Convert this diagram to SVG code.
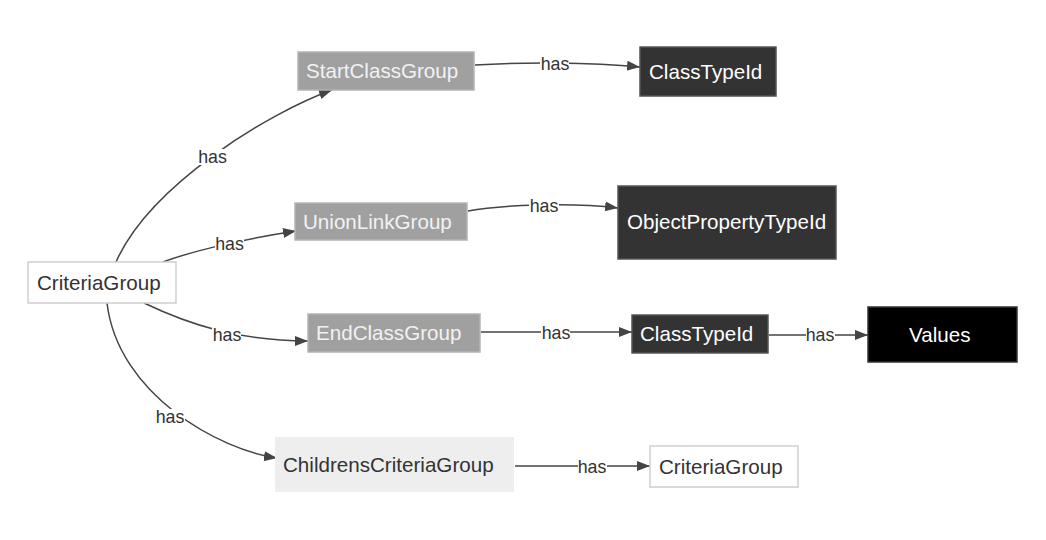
<svg xmlns="http://www.w3.org/2000/svg" width="1046" height="540" viewBox="0 0 1046 540">
<defs>
<marker id="arr" markerUnits="userSpaceOnUse" markerWidth="14" markerHeight="11" refX="13" refY="5" orient="auto">
<path d="M0,0 L13,5 L0,10 z" fill="#444"/>
</marker>
</defs>
<style>
text{font-family:"Liberation Sans",Arial,sans-serif}
.nt{font-size:20.6px}
.lb{font-size:17.8px;fill:#333;text-anchor:middle}
.lbg{fill:#fff}
.e{fill:none;stroke:#444;stroke-width:1.5;marker-end:url(#arr)}
.white{fill:#fff;stroke:#cfcfcf;stroke-width:1.5}
.grey{fill:#a0a0a0;stroke:#b4b4b4;stroke-width:1.5}
.dark{fill:#333;stroke:#555;stroke-width:1.5}
.black{fill:#000;stroke:#333;stroke-width:1.5}
.light{fill:#eee}
.tdark{fill:#333}
.tlight{fill:#f2f2f2}
.twhite{fill:#fff}
</style>
<rect width="1046" height="540" fill="#fff"/>
<g id="connectors">
<path class="e" d="M116,262 C150,185 270,112 332,90"/>
<path class="e" d="M163,262 C195,250 250,238 296,231"/>
<path class="e" d="M475,65 C520,62 590,62 640,67"/>
<path class="e" d="M468,211 C500,205 570,202 618,208"/>
<path class="e" d="M144,303 C190,325 240,341 308,341"/>
<path class="e" d="M107,303 C118,395 220,450 277,458"/>
<path class="e" d="M481,332 L632,332"/>
<path class="e" d="M769,335 L868,335"/>
<path class="e" d="M515,466 L650,466"/>
<g id="labels">
<rect class="lbg" x="198" y="149" width="29" height="16"/><text class="lb" x="212.5" y="163">has</text>
<rect class="lbg" x="215" y="236" width="29" height="16"/><text class="lb" x="229.5" y="250">has</text>
<rect class="lbg" x="540" y="56" width="29" height="16"/><text class="lb" x="555" y="70">has</text>
<rect class="lbg" x="529" y="198" width="30" height="16"/><text class="lb" x="544" y="212">has</text>
<rect class="lbg" x="212" y="327" width="29" height="16"/><text class="lb" x="227" y="341">has</text>
<rect class="lbg" x="156" y="409" width="29" height="16"/><text class="lb" x="170" y="423">has</text>
<rect class="lbg" x="541" y="325" width="29" height="16"/><text class="lb" x="556" y="339">has</text>
<rect class="lbg" x="806" y="327" width="29" height="16"/><text class="lb" x="820" y="341">has</text>
<rect class="lbg" x="578" y="459" width="29" height="16"/><text class="lb" x="592" y="473">has</text>
</g>
</g>
<g id="n-criteria">
<rect class="white" x="28" y="262" width="148" height="41"/>
<text class="nt tdark" x="37" y="290">CriteriaGroup</text>
</g>
<g id="n-startclass">
<rect class="grey" x="298" y="52" width="176" height="38"/>
<text class="nt tlight" x="306" y="78">StartClassGroup</text>
</g>
<g id="n-unionlink">
<rect class="grey" x="295" y="203" width="172" height="37"/>
<text class="nt tlight" x="303" y="229">UnionLinkGroup</text>
</g>
<g id="n-endclass">
<rect class="grey" x="308" y="314" width="172" height="38"/>
<text class="nt tlight" x="316" y="340">EndClassGroup</text>
</g>
<g id="n-children">
<rect class="light" x="275" y="437" width="239" height="55"/>
<text class="nt tdark" x="283" y="472">ChildrensCriteriaGroup</text>
</g>
<g id="n-classtype1">
<rect class="dark" x="640" y="47" width="136" height="49"/>
<text class="nt twhite" x="649" y="79">ClassTypeId</text>
</g>
<g id="n-objprop">
<rect class="dark" x="618" y="186" width="218" height="73"/>
<text class="nt twhite" x="627" y="229">ObjectPropertyTypeId</text>
</g>
<g id="n-classtype2">
<rect class="dark" x="632" y="315" width="136" height="38"/>
<text class="nt twhite" x="640" y="341">ClassTypeId</text>
</g>
<g id="n-values">
<rect class="black" x="868" y="307" width="149" height="55"/>
<text class="nt twhite" x="909" y="342">Values</text>
</g>
<g id="n-criteria2">
<rect class="white" x="650" y="446" width="148" height="41"/>
<text class="nt tdark" x="659" y="474">CriteriaGroup</text>
</g>
</svg>
